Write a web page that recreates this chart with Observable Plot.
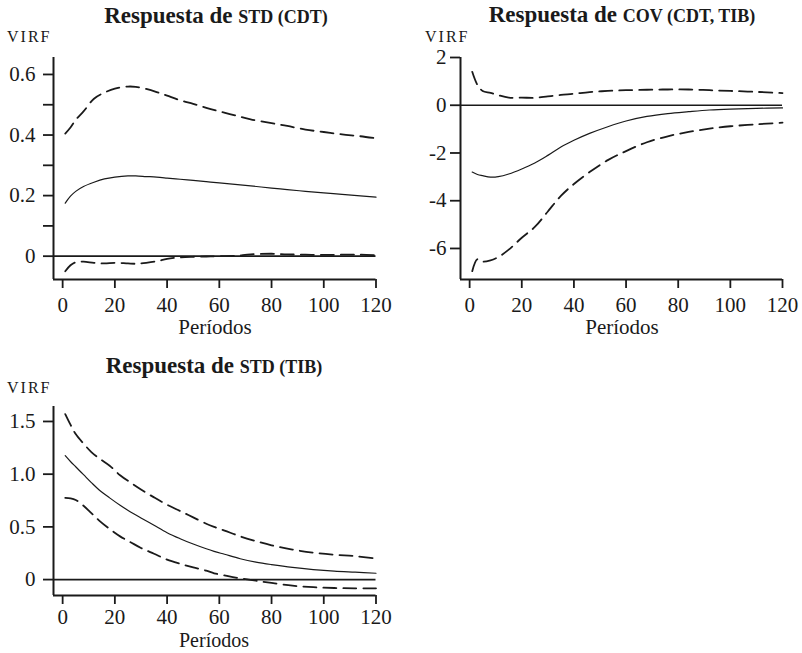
<!DOCTYPE html>
<html>
<head>
<meta charset="utf-8">
<script src="https://cdn.jsdelivr.net/npm/d3@7"></script>
<script src="https://cdn.jsdelivr.net/npm/@observablehq/plot@0.6"></script>
<style>
  html, body { margin: 0; padding: 0; background: #fff; }
  #wrap { position: relative; width: 802px; height: 653px; overflow: hidden; font-family: "Liberation Serif", "Times New Roman", serif; color: #1a1a1a; }
  .svgbox { position: absolute; }
  .title { position: absolute; transform: translateX(-50%); white-space: nowrap; font-weight: bold; font-size: 23px; line-height: 23px; }
  .title .sc { font-size: 18px; }
  .ylab { position: absolute; font-size: 16px; line-height: 16px; letter-spacing: 2px; }
  .xlab { position: absolute; transform: translateX(-50%); font-size: 21px; line-height: 17px; white-space: nowrap; }
  .xlab.small { font-size: 20px; }
</style>
</head>
<body>
<div id="wrap"></div>
<script>
// ---------- data ----------
// Panel 1: Respuesta de STD (CDT)
const periods1 = [1, 3, 5, 8, 12, 16, 20, 25, 28, 32, 36, 40, 45, 50, 55, 60, 66, 72, 80, 86, 93, 100, 107, 114, 120];
const mid1 = [0.175, 0.198, 0.214, 0.230, 0.244, 0.255, 0.261, 0.265, 0.265, 0.263, 0.261, 0.258, 0.254, 0.250, 0.246, 0.242, 0.237, 0.232, 0.225, 0.220, 0.214, 0.209, 0.204, 0.199, 0.195];
const hi1  = [0.405, 0.425, 0.450, 0.478, 0.520, 0.540, 0.553, 0.560, 0.559, 0.552, 0.542, 0.530, 0.515, 0.503, 0.490, 0.478, 0.465, 0.452, 0.439, 0.430, 0.418, 0.410, 0.402, 0.396, 0.389];
const lo1  = [-0.050, -0.030, -0.020, -0.018, -0.022, -0.024, -0.022, -0.024, -0.025, -0.022, -0.017, -0.009, -0.004, -0.002, -0.001, 0.000, 0.001, 0.006, 0.008, 0.006, 0.005, 0.004, 0.005, 0.005, 0.003];
const yTicks1 = [0, 0.1, 0.2, 0.3, 0.4, 0.5, 0.6];
const yLabels1 = ["0", "", "0.2", "", "0.4", "", "0.6"];

// Panel 2: Respuesta de COV (CDT, TIB)
const periods2 = [1, 3, 5, 8, 11, 15, 20, 25, 30, 35, 40, 46, 53, 60, 68, 76, 84, 92, 100, 110, 120];
const mid2 = [-2.80, -2.90, -2.95, -3.01, -2.99, -2.88, -2.67, -2.42, -2.10, -1.75, -1.47, -1.18, -0.90, -0.66, -0.47, -0.35, -0.27, -0.20, -0.16, -0.13, -0.11];
const hi2  = [1.40, 0.85, 0.60, 0.52, 0.42, 0.32, 0.32, 0.31, 0.37, 0.43, 0.48, 0.55, 0.60, 0.63, 0.65, 0.66, 0.66, 0.63, 0.60, 0.56, 0.51];
const lo2  = [-6.95, -6.45, -6.55, -6.50, -6.36, -6.05, -5.55, -5.10, -4.45, -3.80, -3.30, -2.80, -2.30, -1.92, -1.55, -1.30, -1.12, -0.98, -0.88, -0.80, -0.73];
const yTicks2 = [2, 0, -2, -4, -6];
const yLabels2 = ["2", "0", "-2", "-4", "-6"];

// Panel 3: Respuesta de STD (TIB)
const periods3 = [1, 3, 5, 8, 11, 14, 18, 22, 26, 30, 35, 40, 45, 50, 55, 58, 62, 68, 74, 80, 88, 96, 104, 112, 120];
const mid3 = [1.175, 1.120, 1.070, 0.995, 0.920, 0.850, 0.775, 0.705, 0.642, 0.585, 0.515, 0.445, 0.388, 0.337, 0.292, 0.268, 0.240, 0.198, 0.166, 0.142, 0.115, 0.095, 0.080, 0.070, 0.060];
const hi3  = [1.570, 1.470, 1.380, 1.290, 1.210, 1.150, 1.080, 0.990, 0.920, 0.855, 0.780, 0.710, 0.650, 0.590, 0.530, 0.500, 0.465, 0.410, 0.365, 0.325, 0.285, 0.255, 0.235, 0.222, 0.200];
const lo3  = [0.775, 0.770, 0.755, 0.700, 0.630, 0.560, 0.480, 0.410, 0.355, 0.300, 0.245, 0.190, 0.150, 0.115, 0.085, 0.060, 0.040, 0.012, -0.010, -0.032, -0.058, -0.072, -0.080, -0.083, -0.083];
const yTicks3 = [0, 0.5, 1.0, 1.5];
const yLabels3 = ["0", "0.5", "1.0", "1.5"];

const xTicks = [0, 20, 40, 60, 80, 100, 120];
const xDomain = [-3.5, 120];

// ---------- drawing ----------
const FONT = '"Liberation Serif", "Times New Roman", serif';
const INK = "#1a1a1a";

function toRows(periods, values) {
  return periods.map((p, i) => ({period: p, value: values[i]}));
}

function panel(o) {
  const yFmtMap = new Map(o.yTicks.map((v, i) => [v, o.yLabels[i]]));
  return Plot.plot({
    width: o.width, height: o.height,
    marginTop: o.mt, marginBottom: o.mb, marginLeft: o.ml, marginRight: o.mr,
    style: {fontFamily: FONT, fontSize: "21px", color: INK, background: "transparent", overflow: "visible"},
    x: {domain: xDomain, label: null},
    y: {domain: o.yDomain, label: null},
    marks: [
      Plot.axisX({ticks: xTicks, tickSize: 9, tickPadding: o.tickPadX, tickFormat: d => String(d), strokeWidth: 1.8, label: null}),
      Plot.axisY({ticks: o.yTicks, tickSize: 10, tickPadding: o.tickPadY, textAnchor: "end", tickFormat: d => yFmtMap.get(d), strokeWidth: 1.8, label: null}),
      Plot.ruleX([xDomain[0]], {stroke: INK, strokeWidth: 2}),
      Plot.ruleY([o.yDomain[0]], {stroke: INK, strokeWidth: 2}),
      Plot.ruleY([0], {stroke: INK, strokeWidth: 1.7}),
      Plot.line(toRows(o.periods, o.hi), {x: "period", y: "value", curve: "catmull-rom", stroke: INK, strokeWidth: 1.8, strokeDasharray: "13,7"}),
      Plot.line(toRows(o.periods, o.lo), {x: "period", y: "value", curve: "catmull-rom", stroke: INK, strokeWidth: 1.8, strokeDasharray: "13,7"}),
      Plot.line(toRows(o.periods, o.mid), {x: "period", y: "value", curve: "catmull-rom", stroke: INK, strokeWidth: 1.2})
    ]
  });
}

const wrap = document.getElementById("wrap");

function place(node, left, top) {
  const box = document.createElement("div");
  box.className = "svgbox";
  box.style.left = left + "px";
  box.style.top = top + "px";
  box.appendChild(node);
  wrap.appendChild(box);
}

function text(cls, html, left, top) {
  const d = document.createElement("div");
  d.className = cls;
  d.innerHTML = html;
  d.style.left = left + "px";
  d.style.top = top + "px";
  wrap.appendChild(d);
}

place(panel({width: 400, height: 340, mt: 57, mb: 61, ml: 53, mr: 24.5,
  yDomain: [-0.077, 0.656], yTicks: yTicks1, yLabels: yLabels1, tickPadY: 8, tickPadX: 9,
  periods: periods1, mid: mid1, hi: hi1, lo: lo1}), 0, 0);

place(panel({width: 402, height: 340, mt: 57, mb: 61, ml: 60, mr: 20,
  yDomain: [-7.3, 2], yTicks: yTicks2, yLabels: yLabels2, tickPadY: 4, tickPadX: 9,
  periods: periods2, mid: mid2, hi: hi2, lo: lo2}), 400, 0);

place(panel({width: 400, height: 313, mt: 66, mb: 58, ml: 53, mr: 24.5,
  yDomain: [-0.151, 1.642], yTicks: yTicks3, yLabels: yLabels3, tickPadY: 8, tickPadX: 5,
  periods: periods3, mid: mid3, hi: hi3, lo: lo3}), 0, 340);

// titles
text("title", 'Respuesta de <span class="sc">STD (CDT)</span>', 216, 4);
text("title", 'Respuesta de <span class="sc">COV (CDT, TIB)</span>', 622, 3);
text("title", 'Respuesta de <span class="sc">STD (TIB)</span>', 214, 354);
// y labels
text("ylab", "VIRF", 7, 29);
text("ylab", "VIRF", 425, 29);
text("ylab", "VIRF", 7, 380);
// x labels
text("xlab", "Períodos", 215, 319);
text("xlab", "Períodos", 622, 319);
text("xlab small", "Períodos", 214, 632);
</script>
</body>
</html>
